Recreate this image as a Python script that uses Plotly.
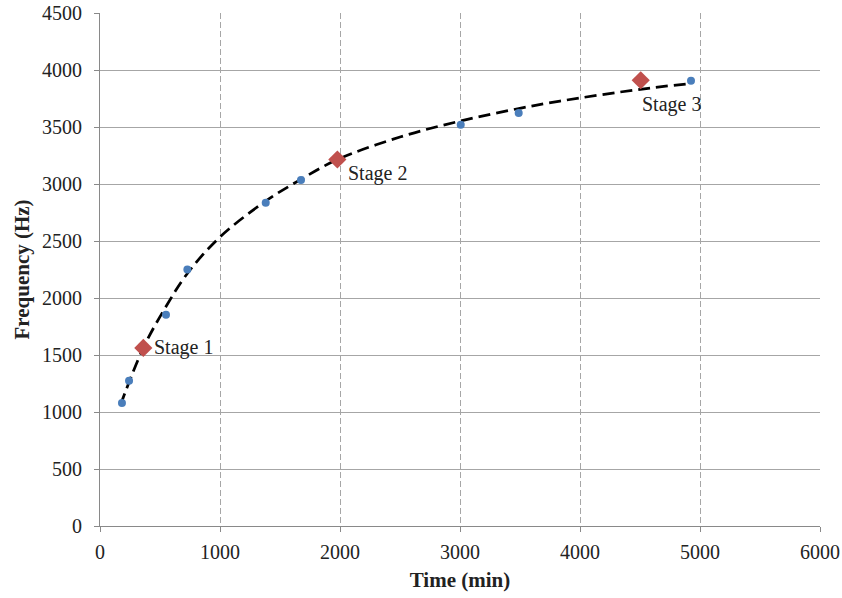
import plotly.graph_objects as go

# Measured data (blue points)
time_min = [183, 242, 550, 728, 1381, 1675, 3006, 3489, 4925]
freq_hz = [1078, 1275, 1852, 2250, 2835, 3035, 3520, 3622, 3905]

# Stage points (red diamonds)
stage_names = ["Stage 1", "Stage 2", "Stage 3"]
stage_time = [361, 1978, 4506]
stage_freq = [1562, 3215, 3910]

# Trend line
trend_time = [170, 361, 550, 728, 1000, 1375, 1675, 1978, 2500, 3008, 3489, 3833, 4503, 4925]
trend_freq = [1060, 1562, 1925, 2215, 2535, 2846, 3041, 3214, 3412, 3554, 3662, 3727, 3831, 3882]

x_ticks = [0, 1000, 2000, 3000, 4000, 5000, 6000]
y_ticks = [0, 500, 1000, 1500, 2000, 2500, 3000, 3500, 4000, 4500]

FONT = "Liberation Serif, Times New Roman, serif"

fig = go.Figure()
fig.add_trace(go.Scatter(
    x=trend_time, y=trend_freq, mode="lines", line_shape="spline",
    line=dict(color="black", width=2.75, dash="12px,6px"), hoverinfo="skip",
))
fig.add_trace(go.Scatter(
    x=time_min, y=freq_hz, mode="markers",
    marker=dict(symbol="circle", size=8, color="#4a7ebb"),
))
fig.add_trace(go.Scatter(
    x=stage_time, y=stage_freq, mode="markers",
    marker=dict(symbol="diamond", size=14, color="#c0504d"),
))

shifts = [(9, 0), (9, -14), (-1, -24)]
for name, sx, sy, (dx, dy) in zip(stage_names, stage_time, stage_freq, shifts):
    fig.add_annotation(x=sx, y=sy, text=name, showarrow=False, xanchor="left",
                       yanchor="middle", xshift=dx, yshift=dy,
                       font=dict(family=FONT, size=20, color="#222222"))

axis_common = dict(
    showline=True, linecolor="#898989", linewidth=1,
    ticks="outside", ticklen=5, tickcolor="#898989", tickwidth=1,
    tickfont=dict(family=FONT, size=20, color="#222222"),
    showgrid=True, gridcolor="#a6a6a6", gridwidth=1, zeroline=False,
    automargin=False, ticklabeloverflow="allow",
)

fig.update_xaxes(
    range=[0, 6000], tickvals=x_ticks, ticktext=[str(v) for v in x_ticks],
    griddash="6px,3px", ticklabelstandoff=3,
    title=dict(text="<b>Time (min)</b>", font=dict(family=FONT, size=21, color="#222222"), standoff=10),
    **axis_common,
)
fig.update_yaxes(
    range=[0, 4500], tickvals=y_ticks, ticktext=[str(v) for v in y_ticks],
    griddash="solid", ticklabelstandoff=8,
    title=dict(text="<b>Frequency (Hz)</b>", font=dict(family=FONT, size=21, color="#222222"), standoff=6),
    **axis_common,
)

fig.update_layout(
    width=842, height=598,
    margin=dict(l=100, r=22, t=13, b=72),
    paper_bgcolor="white", plot_bgcolor="white",
    showlegend=False,
)

# Remove the default page margin so the figure fills the window exactly.
fig.write_html(
    "out.html",
    config={"displayModeBar": False},
    post_script="document.body.style.margin='0';document.body.style.overflow='hidden';"
                "document.documentElement.style.overflow='hidden';",
)
